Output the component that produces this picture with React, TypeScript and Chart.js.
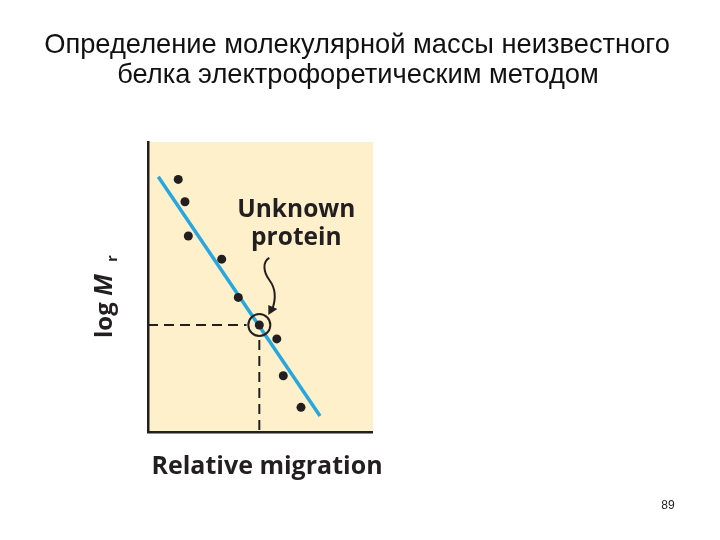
import React, { useEffect, useRef } from "react";
import { Chart, registerables } from "chart.js";

Chart.register(...registerables);

// ---- data ----
const titleLines = [
  "Определение молекулярной массы неизвестного",
  "белка электрофоретическим методом",
];
const markerX = [0.135, 0.165, 0.18, 0.329, 0.403, 0.497, 0.575, 0.604, 0.683];
const markerY = [0.871, 0.794, 0.676, 0.596, 0.464, 0.369, 0.321, 0.194, 0.085];
const unknownIndex = 5;
const fitX = [0.046, 0.768];
const fitY = [0.88, 0.055];
const hDashX = [0, 0.44];
const vDashY = [0.317, 0];
const xAxisTitle = "Relative migration";
const yAxisTitleParts = ["log ", "M", "r"];
const annotationLines = ["Unknown", "protein"];
const pageNumber = "89";

const INK = "#231f20";
const BLUE = "#27a7de";
const BEIGE = "#fdf0cb";

const overlayPlugin = {
  id: "overlay",
  beforeDraw(chart: any) {
    const { ctx, chartArea } = chart;
    ctx.save();
    ctx.fillStyle = BEIGE;
    ctx.fillRect(chartArea.left, chartArea.top, chartArea.right - chartArea.left + 1, chartArea.bottom - chartArea.top);
    ctx.restore();
  },
  afterDraw(chart: any) {
    const { ctx, scales } = chart;
    const ux = scales.x.getPixelForValue(markerX[unknownIndex]);
    const uy = scales.y.getPixelForValue(markerY[unknownIndex]);
    ctx.save();
    // title
    ctx.fillStyle = "#111";
    ctx.textAlign = "center";
    ctx.textBaseline = "middle";
    ctx.font = "27.3px 'Liberation Sans', Arial, sans-serif";
    ctx.fillText(titleLines[0], 357, 45);
    ctx.fillText(titleLines[1], 358, 75);

    // annotation text
    ctx.fillStyle = INK;
    ctx.font = "bold 24.5px 'Open Sans', sans-serif";
    ctx.fillText(annotationLines[0], ux + 37, uy - 115);
    ctx.fillText(annotationLines[1], ux + 37, uy - 87);

    // curly arrow
    ctx.strokeStyle = INK;
    ctx.lineWidth = 2;
    ctx.beginPath();
    ctx.moveTo(ux + 10, uy - 67);
    ctx.bezierCurveTo(ux + 3, uy - 63, ux + 4, uy - 53, ux + 10, uy - 45);
    ctx.bezierCurveTo(ux + 16, uy - 37, ux + 17, uy - 27, ux + 13, uy - 16);
    ctx.stroke();
    ctx.fillStyle = INK;
    ctx.beginPath();
    ctx.moveTo(ux + 9, uy - 10);
    ctx.lineTo(ux + 9, uy - 20);
    ctx.lineTo(ux + 18, uy - 16);
    ctx.closePath();
    ctx.fill();

    // x axis title
    ctx.font = "bold 25px 'Open Sans', sans-serif";
    ctx.textAlign = "center";
    ctx.fillText(xAxisTitle, 267, 467);

    // y axis title (rotated)
    ctx.translate(112, 338);
    ctx.rotate(-Math.PI / 2);
    ctx.textAlign = "left";
    ctx.textBaseline = "alphabetic";
    ctx.font = "bold 24px 'Open Sans', sans-serif";
    let cx = 0;
    ctx.fillText(yAxisTitleParts[0], cx, 0);
    cx += ctx.measureText(yAxisTitleParts[0]).width;
    ctx.font = "italic bold 25px 'Open Sans', sans-serif";
    ctx.fillText(yAxisTitleParts[1], cx, 0);
    cx += ctx.measureText(yAxisTitleParts[1]).width + 12;
    ctx.font = "bold 15px 'Open Sans', sans-serif";
    ctx.fillText(yAxisTitleParts[2], cx, 5);
    ctx.setTransform(1, 0, 0, 1, 0, 0);

    // page number
    ctx.fillStyle = "#222";
    ctx.font = "12px 'Liberation Sans', Arial, sans-serif";
    ctx.textAlign = "center";
    ctx.textBaseline = "middle";
    ctx.fillText(pageNumber, 668, 506);
    ctx.restore();
  },
};

export default function App() {
  const ref = useRef<HTMLCanvasElement | null>(null);
  useEffect(() => {
    if (!ref.current) return;
    const points = markerX.map((x, i) => ({ x, y: markerY[i] }));
    const chart = new Chart(ref.current, {
      type: "scatter",
      data: {
        datasets: [
          {
            data: points,
            pointRadius: 4.5,
            pointBackgroundColor: INK,
            pointBorderWidth: 0,
            showLine: false,
          },
          {
            data: [{ x: markerX[unknownIndex], y: markerY[unknownIndex] }],
            pointRadius: 11,
            pointBackgroundColor: "rgba(0,0,0,0)",
            pointBorderColor: INK,
            pointBorderWidth: 2,
            showLine: false,
          },
          {
            data: fitX.map((x, i) => ({ x, y: fitY[i] })),
            showLine: true,
            borderColor: BLUE,
            borderWidth: 3.5,
            pointRadius: 0,
          },
          {
            data: hDashX.map((x) => ({ x, y: markerY[unknownIndex] })),
            showLine: true,
            borderColor: INK,
            borderWidth: 2,
            borderDash: [10, 6],
            pointRadius: 0,
          },
          {
            data: vDashY.map((y) => ({ x: markerX[unknownIndex], y })),
            showLine: true,
            borderColor: INK,
            borderWidth: 2,
            borderDash: [10, 6],
            pointRadius: 0,
          },
        ],
      } as any,
      options: {
        animation: false,
        responsive: false,
        devicePixelRatio: 1,
        events: [],
        layout: { padding: { left: 148, top: 142, right: 348, bottom: 108 } },
        plugins: { legend: { display: false }, tooltip: { enabled: false }, title: { display: false } },
        scales: {
          x: {
            type: "linear",
            min: 0,
            max: 1,
            offset: false,
            grid: { display: false, drawTicks: false },
            ticks: { display: false },
            border: { display: true, color: INK, width: 2.5 },
          },
          y: {
            type: "linear",
            min: 0,
            max: 1,
            grid: { display: false, drawTicks: false },
            ticks: { display: false },
            border: { display: true, color: INK, width: 2.5 },
          },
        },
      },
      plugins: [overlayPlugin],
    });
    return () => chart.destroy();
  }, []);
  return (
    <div style={{ position: "absolute", left: 0, top: 0, width: 720, height: 540, background: "#fff" }}>
      <canvas ref={ref} width={720} height={540} style={{ display: "block" }} />
    </div>
  );
}
